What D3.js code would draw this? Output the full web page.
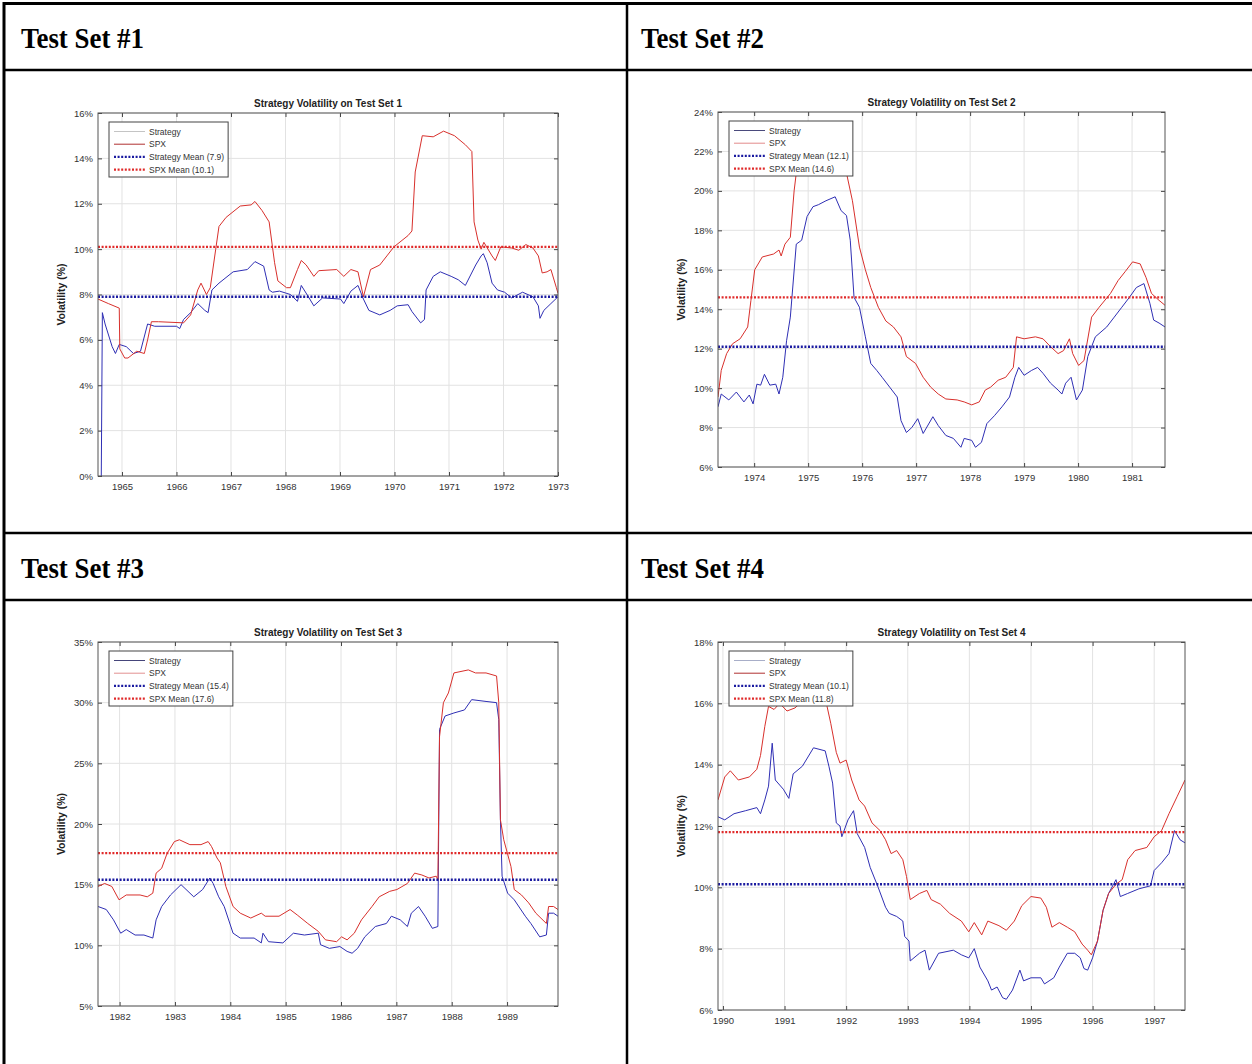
<!DOCTYPE html>
<html lang="en">
<head>
<meta charset="UTF-8">
<title>Strategy Volatility on Test Sets</title>
<style>
body { margin: 0; background: #fff; }
</style>
</head>
<script src="https://cdn.jsdelivr.net/npm/d3@7"></script>
<body>
<div id="page"></div>
</body>
<script>
// ---- data: [decimal year, volatility %] ----
const headers = ["Test Set #1", "Test Set #2", "Test Set #3", "Test Set #4"]
const titles = ["Strategy Volatility on Test Set 1", "Strategy Volatility on Test Set 2",
                "Strategy Volatility on Test Set 3", "Strategy Volatility on Test Set 4"]
const legendLabels = ["Strategy", "SPX", "Strategy Mean", "SPX Mean"]

const strategyMeans = [7.9, 12.1, 15.4, 10.1]
const spxMeans = [10.1, 14.6, 17.6, 11.8]

const xDomain1 = [1964.56, 1973.0]
const xDomain2 = [1973.33, 1981.61]
const xDomain3 = [1981.61, 1989.92]
const xDomain4 = [1989.92, 1997.5]

const yDomain1 = [0, 16]
const yDomain2 = [6, 24]
const yDomain3 = [5, 35]
const yDomain4 = [6, 18]

const xTicks1 = d3.range(1965, 1974)
const xTicks2 = d3.range(1974, 1982)
const xTicks3 = d3.range(1982, 1990)
const xTicks4 = d3.range(1990, 1998)

const yTicks1 = d3.range(0, 17, 2)
const yTicks2 = d3.range(6, 25, 2)
const yTicks3 = d3.range(5, 36, 5)
const yTicks4 = d3.range(6, 19, 2)

const strategy1 = [[1964.62,0],[1964.64,7.2],[1964.69,6.7],[1964.82,5.7],[1964.88,5.4],[1964.95,5.8],
  [1965.08,5.7],[1965.21,5.4],[1965.34,5.5],[1965.47,6.7],[1965.6,6.6],[1966.0,6.6],[1966.06,6.5],
  [1966.13,6.9],[1966.26,7.2],[1966.39,7.6],[1966.52,7.3],[1966.58,7.2],[1966.65,8.2],[1966.78,8.5],
  [1967.04,9.0],[1967.3,9.1],[1967.44,9.45],[1967.6,9.25],[1967.7,8.2],[1967.76,8.1],[1967.89,8.15],
  [1968.09,8.0],[1968.22,7.7],[1968.29,8.4],[1968.42,7.9],[1968.52,7.5],[1968.68,7.85],[1969.01,7.8],
  [1969.07,7.6],[1969.2,8.15],[1969.33,8.4],[1969.43,7.8],[1969.53,7.3],[1969.73,7.1],[1969.92,7.3],
  [1970.05,7.5],[1970.25,7.55],[1970.32,7.25],[1970.48,6.75],[1970.55,6.9],[1970.58,8.2],[1970.71,8.8],
  [1970.84,9.0],[1971.04,8.8],[1971.17,8.65],[1971.3,8.4],[1971.49,9.3],[1971.59,9.7],[1971.63,9.8],
  [1971.7,9.4],[1971.79,8.5],[1971.89,8.2],[1972.02,8.1],[1972.15,7.85],[1972.35,8.1],[1972.54,7.9],
  [1972.64,7.5],[1972.67,6.95],[1972.74,7.3],[1972.87,7.6],[1973.0,7.9]]
const spx1 = [[1964.56,7.8],[1964.75,7.6],[1964.95,7.4],[1964.96,5.6],[1965.05,5.2],[1965.11,5.2],
  [1965.27,5.5],[1965.41,5.4],[1965.47,6.0],[1965.54,6.8],[1965.67,6.8],[1966.13,6.75],[1966.26,7.1],
  [1966.39,8.2],[1966.45,8.5],[1966.55,8.0],[1966.62,8.3],[1966.72,10.0],[1966.78,11.0],[1966.91,11.4],
  [1967.17,11.9],[1967.37,11.95],[1967.44,12.1],[1967.57,11.7],[1967.7,11.2],[1967.8,9.4],[1967.86,8.6],
  [1968.02,8.3],[1968.09,8.3],[1968.22,9.1],[1968.29,9.5],[1968.38,9.3],[1968.52,8.8],[1968.61,9.05],
  [1968.94,9.1],[1969.07,8.8],[1969.2,9.1],[1969.33,9.0],[1969.43,7.9],[1969.56,9.1],[1969.73,9.3],
  [1969.86,9.7],[1969.99,10.1],[1970.25,10.6],[1970.32,10.8],[1970.38,13.4],[1970.51,15.0],[1970.71,14.95],
  [1970.9,15.2],[1971.1,15.0],[1971.3,14.6],[1971.42,14.3],[1971.46,11.2],[1971.53,10.4],[1971.59,10.0],
  [1971.64,10.3],[1971.79,9.7],[1971.85,9.5],[1971.95,10.1],[1972.15,10.05],[1972.28,9.95],[1972.41,10.2],
  [1972.54,10.05],[1972.64,9.7],[1972.71,8.95],[1972.8,9.0],[1972.87,9.1],[1972.97,8.3],[1973.0,8.05]]

const strategy2 = [[1973.33,9.05],[1973.39,9.7],[1973.53,9.4],[1973.67,9.8],[1973.81,9.3],[1973.91,9.65],
  [1973.98,9.2],[1974.05,10.2],[1974.12,10.15],[1974.19,10.7],[1974.29,10.15],[1974.4,10.2],[1974.46,9.7],
  [1974.53,10.55],[1974.6,12.4],[1974.67,13.6],[1974.78,17.3],[1974.88,17.5],[1974.98,18.7],[1975.09,19.2],
  [1975.19,19.3],[1975.33,19.5],[1975.5,19.7],[1975.61,19.0],[1975.71,18.75],[1975.78,17.5],[1975.85,14.6],
  [1975.95,14.1],[1976.06,12.6],[1976.16,11.25],[1976.27,10.9],[1976.37,10.55],[1976.51,10.05],[1976.65,9.55],
  [1976.72,8.35],[1976.82,7.75],[1976.92,8.0],[1977.03,8.45],[1977.13,7.7],[1977.31,8.55],[1977.41,8.1],
  [1977.55,7.6],[1977.69,7.45],[1977.83,7.0],[1977.89,7.45],[1978.03,7.35],[1978.1,7.0],[1978.21,7.25],
  [1978.31,8.2],[1978.45,8.6],[1978.59,9.05],[1978.73,9.55],[1978.83,10.55],[1978.9,11.05],[1979.0,10.65],
  [1979.14,10.9],[1979.25,11.05],[1979.35,10.75],[1979.49,10.25],[1979.63,9.9],[1979.7,9.7],[1979.77,10.25],
  [1979.87,10.55],[1979.97,9.4],[1980.08,9.9],[1980.18,11.6],[1980.32,12.6],[1980.53,13.1],[1980.67,13.6],
  [1980.81,14.1],[1980.95,14.6],[1981.08,15.1],[1981.22,15.3],[1981.33,14.3],[1981.4,13.45],[1981.5,13.3],
  [1981.61,13.1]]
const spx2 = [[1973.33,9.55],[1973.39,10.9],[1973.49,11.75],[1973.6,12.25],[1973.74,12.5],[1973.88,13.1],
  [1973.94,14.45],[1974.01,16.0],[1974.15,16.65],[1974.36,16.8],[1974.46,17.0],[1974.5,16.7],[1974.57,17.3],
  [1974.67,17.65],[1974.74,20.0],[1974.78,20.9],[1974.91,22.0],[1975.19,22.5],[1975.47,22.8],[1975.68,21.3],
  [1975.71,20.9],[1975.82,19.5],[1975.95,17.15],[1976.06,16.0],[1976.16,15.1],[1976.3,14.1],[1976.44,13.4],
  [1976.58,13.1],[1976.72,12.6],[1976.82,11.6],[1976.99,11.25],[1977.13,10.55],[1977.27,10.05],[1977.41,9.7],
  [1977.55,9.45],[1977.76,9.4],[1977.89,9.3],[1978.03,9.15],[1978.17,9.3],[1978.28,9.9],[1978.38,10.05],
  [1978.52,10.4],[1978.66,10.55],[1978.8,11.05],[1978.86,12.6],[1979.0,12.5],[1979.21,12.6],[1979.35,12.5],
  [1979.49,12.1],[1979.63,11.75],[1979.73,11.9],[1979.84,12.5],[1979.9,11.75],[1980.01,11.15],[1980.11,11.4],
  [1980.25,13.6],[1980.39,14.1],[1980.6,14.8],[1980.74,15.45],[1980.87,15.9],[1981.01,16.4],[1981.15,16.3],
  [1981.26,15.6],[1981.36,14.8],[1981.5,14.45],[1981.61,14.2]]

const strategy3 = [[1981.61,13.2],[1981.76,12.95],[1981.89,12.1],[1982.02,11.0],[1982.12,11.3],[1982.28,10.85],
  [1982.44,10.85],[1982.6,10.6],[1982.66,12.1],[1982.76,13.2],[1982.92,14.15],[1983.11,15.0],[1983.34,14.0],
  [1983.5,14.6],[1983.63,15.55],[1983.69,15.1],[1983.79,14.0],[1983.89,13.2],[1984.05,11.0],[1984.18,10.6],
  [1984.43,10.6],[1984.56,10.2],[1984.59,11.0],[1984.69,10.3],[1984.95,10.2],[1985.14,11.0],[1985.34,10.85],
  [1985.59,11.0],[1985.63,10.05],[1985.79,9.75],[1985.98,9.9],[1986.11,9.5],[1986.2,9.35],[1986.3,9.75],
  [1986.43,10.7],[1986.62,11.55],[1986.82,11.8],[1986.91,12.4],[1987.07,12.1],[1987.2,11.55],[1987.27,12.65],
  [1987.4,13.2],[1987.52,12.4],[1987.65,11.4],[1987.75,11.55],[1987.78,27.8],[1987.88,28.9],[1988.04,29.15],
  [1988.23,29.4],[1988.36,30.25],[1988.62,30.1],[1988.81,30.0],[1988.85,28.6],[1988.88,20.35],[1988.91,15.7],
  [1989.01,14.3],[1989.13,13.75],[1989.33,12.4],[1989.43,11.8],[1989.59,10.7],[1989.71,10.85],[1989.75,12.65],
  [1989.84,12.65],[1989.92,12.4]]
const spx3 = [[1981.61,14.85],[1981.73,15.1],[1981.86,14.85],[1981.99,13.75],[1982.12,14.15],[1982.37,14.15],
  [1982.5,14.0],[1982.6,14.3],[1982.66,15.95],[1982.76,16.35],[1982.86,17.6],[1982.99,18.55],[1983.08,18.7],
  [1983.27,18.3],[1983.47,18.3],[1983.6,18.55],[1983.66,18.15],[1983.76,17.2],[1983.82,16.8],[1983.92,14.85],
  [1984.05,13.2],[1984.18,12.65],[1984.37,12.25],[1984.56,12.65],[1984.63,12.4],[1984.88,12.4],[1985.08,12.95],
  [1985.21,12.5],[1985.4,11.8],[1985.59,11.15],[1985.72,10.45],[1985.92,10.3],[1986.01,10.7],[1986.11,10.45],
  [1986.24,11.0],[1986.37,12.1],[1986.56,13.2],[1986.69,14.0],[1986.88,14.45],[1987.01,14.6],[1987.2,15.1],
  [1987.33,15.95],[1987.46,15.8],[1987.59,15.55],[1987.72,15.7],[1987.75,15.4],[1987.78,27.2],[1987.85,30.0],
  [1987.94,30.8],[1988.04,32.45],[1988.3,32.7],[1988.43,32.45],[1988.62,32.45],[1988.81,32.2],[1988.85,30.0],
  [1988.88,20.35],[1988.94,18.7],[1989.07,16.5],[1989.13,14.6],[1989.26,14.15],[1989.39,13.5],[1989.52,12.65],
  [1989.71,11.8],[1989.75,13.2],[1989.84,13.2],[1989.92,12.95]]

const strategy4 = [[1989.92,12.3],[1990.03,12.2],[1990.18,12.4],[1990.37,12.5],[1990.55,12.6],[1990.61,12.4],
  [1990.68,12.85],[1990.74,13.3],[1990.8,14.7],[1990.85,13.5],[1990.98,13.2],[1991.07,12.9],[1991.14,13.7],
  [1991.29,13.95],[1991.47,14.55],[1991.66,14.45],[1991.72,13.95],[1991.78,13.4],[1991.84,12.1],[1991.9,12.0],
  [1991.93,11.65],[1992.03,12.2],[1992.12,12.5],[1992.18,11.75],[1992.3,11.3],[1992.39,10.65],[1992.52,10.0],
  [1992.64,9.35],[1992.7,9.15],[1992.82,9.05],[1992.92,8.9],[1992.95,8.4],[1993.02,8.25],[1993.04,7.6],
  [1993.19,7.85],[1993.28,7.95],[1993.35,7.3],[1993.5,7.85],[1993.74,7.95],[1993.87,7.8],[1993.99,7.7],
  [1994.08,8.0],[1994.17,7.4],[1994.3,6.95],[1994.36,6.65],[1994.45,6.75],[1994.54,6.4],[1994.6,6.35],
  [1994.7,6.65],[1994.82,7.3],[1994.88,6.95],[1995.0,7.05],[1995.16,7.05],[1995.22,6.85],[1995.37,7.05],
  [1995.46,7.4],[1995.59,7.85],[1995.71,7.85],[1995.8,7.7],[1995.86,7.35],[1995.92,7.3],[1996.0,7.7],
  [1996.08,8.25],[1996.17,9.25],[1996.26,9.8],[1996.38,10.25],[1996.45,9.7],[1996.57,9.8],[1996.75,9.95],
  [1996.94,10.05],[1997.0,10.55],[1997.12,10.8],[1997.24,11.1],[1997.33,11.85],[1997.42,11.55],[1997.5,11.45]]
const spx4 = [[1989.92,12.85],[1990.03,13.6],[1990.12,13.8],[1990.25,13.5],[1990.43,13.6],[1990.55,13.85],
  [1990.61,14.3],[1990.68,15.25],[1990.74,15.9],[1990.83,15.8],[1990.92,16.0],[1991.04,15.75],[1991.17,15.85],
  [1991.41,16.3],[1991.6,16.5],[1991.69,15.9],[1991.75,15.35],[1991.84,14.4],[1991.9,14.05],[1992.0,14.15],
  [1992.09,13.5],[1992.21,12.85],[1992.3,12.65],[1992.42,12.1],[1992.55,11.85],[1992.64,11.55],[1992.73,11.1],
  [1992.82,11.2],[1992.92,10.9],[1992.98,10.35],[1993.04,9.6],[1993.19,9.8],[1993.31,9.9],[1993.38,9.6],
  [1993.53,9.45],[1993.68,9.15],[1993.87,8.9],[1993.99,8.55],[1994.08,8.85],[1994.2,8.45],[1994.3,8.9],
  [1994.48,8.75],[1994.6,8.6],[1994.73,8.9],[1994.85,9.4],[1995.0,9.7],[1995.16,9.65],[1995.25,9.35],
  [1995.34,8.7],[1995.46,8.85],[1995.59,8.7],[1995.71,8.55],[1995.83,8.15],[1995.92,7.95],[1995.98,7.8],
  [1996.08,8.25],[1996.17,9.25],[1996.26,9.8],[1996.38,10.1],[1996.48,10.25],[1996.57,10.9],[1996.69,11.2],
  [1996.88,11.3],[1997.0,11.65],[1997.12,11.85],[1997.24,12.4],[1997.37,12.95],[1997.5,13.5]]

// ---- layout ----
const W = 1252, H = 1064
const font = "'Liberation Sans', Arial, Helvetica, sans-serif"
const red = "#d8302c", blue = "#2f2fb4"
const meanBlue = "#1a1aa0", meanRed = "#e02a2a"

const charts = [
  {header: headers[0], title: titles[0], strat: strategy1, spx: spx1, sMean: strategyMeans[0], pMean: spxMeans[0],
   xDomain: xDomain1, yDomain: yDomain1, xTicks: xTicks1, yTicks: yTicks1,
   box: [98, 113, 558, 476], legStrat: "#c4c4c4", legSpx: "#b03030"},
  {header: headers[1], title: titles[1], strat: strategy2, spx: spx2, sMean: strategyMeans[1], pMean: spxMeans[1],
   xDomain: xDomain2, yDomain: yDomain2, xTicks: xTicks2, yTicks: yTicks2,
   box: [718, 112, 1165, 467], legStrat: "#4a4a7c", legSpx: "#e28a8a"},
  {header: headers[2], title: titles[2], strat: strategy3, spx: spx3, sMean: strategyMeans[2], pMean: spxMeans[2],
   xDomain: xDomain3, yDomain: yDomain3, xTicks: xTicks3, yTicks: yTicks3,
   box: [98, 642, 558, 1006], legStrat: "#45457a", legSpx: "#e29090"},
  {header: headers[3], title: titles[3], strat: strategy4, spx: spx4, sMean: strategyMeans[3], pMean: spxMeans[3],
   xDomain: xDomain4, yDomain: yDomain4, xTicks: xTicks4, yTicks: yTicks4,
   box: [718, 642, 1185, 1010], legStrat: "#a8aec8", legSpx: "#b03030"}
]

const svg = d3.select("#page").append("svg")
    .attr("width", W)
    .attr("height", H)
    .style("display", "block")

// table grid
const table = svg.append("g").attr("stroke", "#000")
table.selectAll(".h").data([3.5, 70, 533, 600]).enter().append("line")
    .attr("x1", 3).attr("x2", W + 5)
    .attr("y1", d => d).attr("y2", d => d)
    .attr("stroke-width", (d, i) => i === 0 ? 3 : 2.5)
table.selectAll(".v").data([4, 627]).enter().append("line")
    .attr("x1", d => d).attr("x2", d => d)
    .attr("y1", 2).attr("y2", H + 5)
    .attr("stroke-width", (d, i) => i === 0 ? 3 : 2.5)

const headerPos = [[21, 48], [641, 48], [21, 578], [641, 578]]
svg.selectAll(".header").data(charts).enter().append("text")
    .attr("x", (d, i) => headerPos[i][0])
    .attr("y", (d, i) => headerPos[i][1])
    .attr("font-family", "'Liberation Serif', 'Times New Roman', serif")
    .attr("font-weight", "bold")
    .attr("font-size", 30)
    .attr("textLength", 123)
    .attr("lengthAdjust", "spacingAndGlyphs")
    .attr("fill", "#000")
    .text(d => d.header)

charts.forEach((c, i) => drawChart(c, i))

function drawChart(c, idx) {
    const [x0, y0, x1, y1] = c.box
    const x = d3.scaleLinear().domain(c.xDomain).range([x0, x1])
    const y = d3.scaleLinear().domain(c.yDomain).range([y1, y0])
    const g = svg.append("g").attr("font-family", font)

    const clipId = "clip" + idx
    g.append("clipPath").attr("id", clipId)
      .append("rect").attr("x", x0).attr("y", y0).attr("width", x1 - x0).attr("height", y1 - y0)

    // grid
    g.append("g").selectAll("line").data(c.xTicks).enter().append("line")
        .attr("x1", d => x(d)).attr("x2", d => x(d))
        .attr("y1", y0).attr("y2", y1)
        .attr("stroke", "#e2e2e2")
    g.append("g").selectAll("line").data(c.yTicks).enter().append("line")
        .attr("x1", x0).attr("x2", x1)
        .attr("y1", d => y(d)).attr("y2", d => y(d))
        .attr("stroke", "#e2e2e2")

    // axes with inward ticks
    const styleAxis = sel => {
        sel.select(".domain").remove()
        sel.selectAll("line").attr("stroke", "#444")
        sel.selectAll("text").attr("fill", "#333").attr("font-size", 9.5).attr("font-family", font)
    }
    g.append("g").attr("transform", `translate(${x0},0)`)
        .call(d3.axisLeft(y).tickValues(c.yTicks).tickFormat(d => d + "%").tickSize(-4).tickPadding(5))
        .call(styleAxis)
    g.append("g").attr("transform", `translate(${x1},0)`)
        .call(d3.axisRight(y).tickValues(c.yTicks).tickFormat("").tickSize(-4))
        .call(styleAxis)
    g.append("g").attr("transform", `translate(0,${y1})`)
        .call(d3.axisBottom(x).tickValues(c.xTicks).tickFormat(d3.format("d")).tickSize(-4).tickPadding(7))
        .call(styleAxis)
    g.append("g").attr("transform", `translate(0,${y0})`)
        .call(d3.axisTop(x).tickValues(c.xTicks).tickFormat("").tickSize(-4))
        .call(styleAxis)

    // series
    const line = d3.line().x(d => x(d[0])).y(d => y(d[1]))
    const plot = g.append("g").attr("clip-path", `url(#${clipId})`)
    plot.append("path").datum(c.strat)
        .attr("fill", "none").attr("stroke", blue).attr("stroke-width", 1)
        .attr("d", line)
    plot.append("path").datum(c.spx)
        .attr("fill", "none").attr("stroke", red).attr("stroke-width", 1)
        .attr("d", line)
    plot.append("line")
        .attr("x1", x0).attr("x2", x1)
        .attr("y1", y(c.sMean)).attr("y2", y(c.sMean))
        .attr("stroke", meanBlue).attr("stroke-width", 2.4).attr("stroke-dasharray", "2,1.6")
    plot.append("line")
        .attr("x1", x0).attr("x2", x1)
        .attr("y1", y(c.pMean)).attr("y2", y(c.pMean))
        .attr("stroke", meanRed).attr("stroke-width", 2.4).attr("stroke-dasharray", "2,1.6")

    // frame
    g.append("rect")
        .attr("x", x0).attr("y", y0)
        .attr("width", x1 - x0).attr("height", y1 - y0)
        .attr("fill", "none").attr("stroke", "#555").attr("stroke-width", 1)

    // title and y label
    g.append("text")
        .attr("x", (x0 + x1) / 2).attr("y", y0 - 6)
        .attr("text-anchor", "middle")
        .attr("font-weight", "bold").attr("font-size", 10)
        .attr("fill", "#222")
        .text(c.title)
    g.append("text")
        .attr("transform", `translate(${x0 - 33},${(y0 + y1) / 2}) rotate(-90)`)
        .attr("text-anchor", "middle")
        .attr("font-weight", "bold").attr("font-size", 10.5)
        .attr("fill", "#222")
        .text("Volatility (%)")

    // legend
    const leg = g.append("g").attr("transform", `translate(${x0 + 11},${y0 + 9})`)
    const box = leg.append("rect")
        .attr("fill", "#fff").attr("stroke", "#444").attr("stroke-width", 1)
    const labels = [
        legendLabels[0],
        legendLabels[1],
        `${legendLabels[2]} (${c.sMean.toFixed(1)})`,
        `${legendLabels[3]} (${c.pMean.toFixed(1)})`
    ]
    const styles = [
        {stroke: c.legStrat, w: 1, dash: null},
        {stroke: c.legSpx, w: 1, dash: null},
        {stroke: meanBlue, w: 2.4, dash: "2,1.6"},
        {stroke: meanRed, w: 2.4, dash: "2,1.6"}
    ]
    let maxW = 0
    labels.forEach((t, k) => {
        const cy = 9.5 + k * 12.7
        leg.append("line")
            .attr("x1", 5).attr("x2", 36)
            .attr("y1", cy).attr("y2", cy)
            .attr("stroke", styles[k].stroke)
            .attr("stroke-width", styles[k].w)
            .attr("stroke-dasharray", styles[k].dash)
        const txt = leg.append("text")
            .attr("x", 40).attr("y", cy + 3)
            .attr("font-size", 8.5).attr("fill", "#333")
            .text(t)
        maxW = Math.max(maxW, txt.node().getComputedTextLength())
    })
    box.attr("width", 40 + maxW + 4).attr("height", 55)
}
</script>
</html>
